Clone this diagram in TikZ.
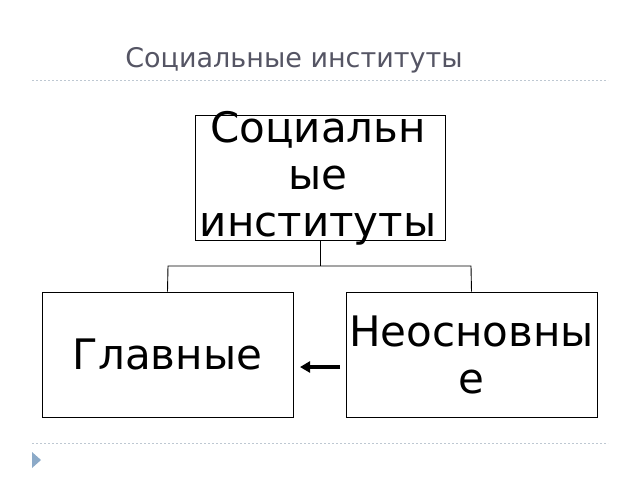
\documentclass[tikz,border=0pt]{standalone}
\usepackage{fontspec}
\setmainfont{DejaVu Sans}
\usetikzlibrary{arrows.meta}
\definecolor{titlec}{RGB}{85,85,100}
\definecolor{dotc}{RGB}{190,200,210}
\definecolor{tric}{RGB}{140,170,200}
\begin{document}
\begin{tikzpicture}[x=1pt,y=-1pt,
  box/.style={draw,line width=0.9pt,align=center,inner sep=0pt},
  big/.style={font=\fontsize{42}{47}\selectfont},
  conn/.style={line width=0.9pt,line join=miter},
  sep/.style={dotc,line width=0.8pt,dash pattern=on 2pt off 2pt}]
\useasboundingbox (0,0) rectangle (640,480);
\node[titlec,font=\fontsize{27}{30}\selectfont] (title) at (294,60) {Социальные институты};
\draw[sep] (32,80) -- (608,80);
\draw[sep] (32,443) -- (608,443);
\fill[tric] (32,452) -- (41,460) -- (32,468) -- cycle;
\node[box,minimum width=250,minimum height=125] (top) at (320,177.5) {};
\node[big,align=center] (toptext) at (318,178) {Социальн\\ые\\институты};
\node[box,big,minimum width=251,minimum height=125] (left) at (167.5,354.5) {Главные};
\node[box,minimum width=251,minimum height=125] (right) at (471.5,354.5) {};
\node[big,align=center] (righttext) at (471.5,354.5) {Неосновны\\е};
\coordinate (j) at (320,266);
\draw[conn] (top.south) -- (j);
\draw[conn] (left.north) -- (168,266) -- (471,266) -- (right.north);
\coordinate (a1) at (340,367);
\coordinate (a2) at (300,367);
\draw[line width=3.5pt,-{Triangle[length=10pt,width=11pt]}] (a1) -- (a2);
\end{tikzpicture}
\end{document}
